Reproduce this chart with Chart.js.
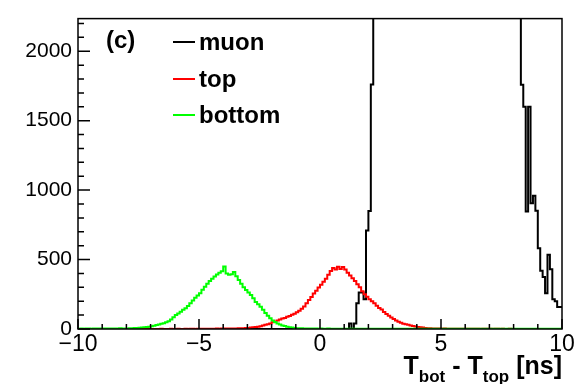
<!DOCTYPE html>
<html>
<head>
<meta charset="utf-8">
<script src="https://cdn.jsdelivr.net/npm/chart.js@4.4.1/dist/chart.umd.min.js"></script>
<style>
  html, body { margin: 0; padding: 0; background: #fff; }
  #wrap { position: relative; width: 582px; height: 384px; font-family: 'Liberation Sans', Arial, sans-serif; color: #000; }
  #chart { position: absolute; left: 0; top: 0; }
  .tag { position: absolute; left: 106px; top: 28px; font-weight: bold; font-size: 24px; line-height: 24px; }
  .entry { position: absolute; left: 173px; height: 28px; display: flex; align-items: center; font-weight: bold; font-size: 24px; }
  .entry .swatch { width: 22px; height: 2px; margin-right: 4px; }
  .xtitle { position: absolute; right: 20px; top: 353px; font-weight: bold; font-size: 25px; line-height: 25px; white-space: nowrap; }
  .xtitle sub { font-size: 17px; vertical-align: -8px; line-height: 0; }
</style>
</head>
<body>
<div id="wrap">
  <canvas id="chart" width="582" height="384"></canvas>
  <div class="tag">(c)</div>
  <div id="legend"></div>
  <div class="xtitle">T<sub>bot</sub> - T<sub>top</sub> [ns]</div>
</div>
<script>
// histogram binning: 200 bins of 0.1 ns from -10 to 10
const binLow = -10;
const binWidth = 0.1;

const seriesNames = ['muon', 'top', 'bottom'];
const seriesColors = ['#000000', '#ff0000', '#00ff00'];

// counts per bin, one row per ns
const muonCounts = [
    0, 0, 0, 0, 0, 0, 0, 0, 0, 0,
    0, 0, 0, 0, 0, 0, 0, 0, 0, 0,
    0, 0, 0, 0, 0, 0, 0, 0, 0, 0,
    0, 0, 0, 0, 0, 0, 0, 0, 0, 0,
    0, 0, 0, 0, 0, 0, 0, 0, 0, 0,
    0, 0, 0, 0, 0, 0, 0, 0, 0, 0,
    0, 0, 0, 0, 0, 0, 0, 0, 0, 0,
    0, 0, 0, 0, 0, 0, 0, 0, 0, 0,
    0, 0, 0, 0, 0, 0, 0, 0, 0, 0,
    0, 0, 0, 0, 0, 0, 0, 0, 0, 0,
    0, 0, 0, 0, 0, 0, 0, 0, 0, 0,
    0, 0, 40, 0, 40, 185, 262, 262, 215, 710,
    850, 1760, 2900, 3600, 4400, 5200, 5900, 6600, 7200, 7700,
    8100, 8400, 8700, 8900, 9000, 9100, 9100, 9000, 9000, 8900,
    8800, 8700, 8600, 8400, 8300, 8100, 8000, 7800, 7600, 7500,
    7300, 7100, 7000, 6800, 6600, 6400, 6300, 6100, 5900, 5700,
    5600, 5400, 5200, 5000, 4900, 4700, 4500, 4400, 4200, 4000,
    3900, 3700, 3600, 3400, 3300, 3100, 3000, 2900, 2800, 2700,
    2550, 2400, 2300, 1758, 1600, 846, 1600, 905, 960, 851,
    581, 420, 374, 258, 535, 431, 214, 200, 159, 159
];

const topCounts = [
    0, 0, 0, 0, 0, 0, 0, 0, 0, 0,
    0, 0, 0, 0, 0, 0, 0, 0, 0, 0,
    0, 0, 0, 0, 0, 0, 0, 0, 0, 0,
    0, 0, 0, 0, 1, 0, 0, 0, 1, 0,
    0, 1, 0, 0, 1, 0, 1, 1, 0, 1,
    1, 1, 2, 1, 2, 2, 2, 3, 2, 3,
    3, 3, 4, 3, 4, 4, 5, 6, 6, 7,
    8, 10, 12, 14, 17, 20, 25, 30, 35, 40,
    48, 53, 62, 68, 76, 80, 88, 94, 102, 110,
    120, 132, 145, 162, 185, 208, 230, 255, 275, 298,
    318, 340, 362, 390, 418, 440, 428, 448, 432, 446,
    428, 405, 385, 365, 345, 322, 300, 272, 250, 232,
    215, 200, 185, 168, 152, 140, 122, 108, 95, 82,
    72, 62, 52, 45, 38, 34, 30, 26, 22, 18,
    15, 12, 10, 8, 6, 5, 4, 4, 3, 3,
    2, 3, 2, 2, 2, 1, 2, 1, 1, 2,
    1, 1, 1, 2, 1, 1, 0, 1, 1, 1,
    1, 0, 1, 1, 0, 1, 0, 0, 1, 0,
    0, 0, 0, 0, 0, 0, 0, 0, 0, 0,
    0, 0, 0, 0, 0, 0, 0, 0, 0, 0
];

const bottomCounts = [
    2, 3, 2, 3, 3, 2, 3, 4, 3, 3,
    3, 4, 3, 4, 4, 3, 4, 5, 4, 4,
    4, 5, 6, 7, 8, 9, 10, 12, 14, 17,
    20, 24, 28, 33, 38, 42, 48, 55, 68, 84,
    100, 112, 125, 138, 150, 165, 185, 205, 225, 242,
    258, 282, 305, 325, 345, 362, 378, 392, 405, 415,
    450, 400, 390, 395, 410, 380, 352, 325, 300, 280,
    262, 245, 222, 195, 178, 160, 138, 115, 95, 78,
    62, 50, 40, 32, 26, 21, 16, 13, 10, 8,
    6, 5, 5, 4, 4, 3, 4, 3, 3, 2,
    3, 2, 2, 3, 2, 2, 1, 2, 2, 1,
    2, 1, 1, 2, 1, 1, 2, 1, 1, 1,
    1, 1, 2, 1, 1, 1, 1, 2, 1, 1,
    1, 1, 1, 1, 2, 1, 1, 1, 1, 1,
    1, 1, 1, 1, 1, 1, 1, 1, 1, 1,
    1, 1, 1, 1, 1, 1, 1, 1, 1, 1,
    1, 1, 1, 1, 1, 1, 1, 1, 1, 1,
    1, 1, 1, 1, 1, 1, 1, 1, 1, 1,
    1, 1, 1, 1, 1, 1, 1, 1, 1, 1,
    1, 1, 1, 1, 1, 1, 1, 1, 1, 1
];

// axis ticks
const xMajorTicks = [-10, -5, 0, 5, 10];
const xMinorTicks = [-9, -8, -7, -6, -4, -3, -2, -1, 1, 2, 3, 4, 6, 7, 8, 9];
const yMajorTicks = [0, 500, 1000, 1500, 2000];
const yMinorTicks = [100, 200, 300, 400, 600, 700, 800, 900, 1100, 1200, 1300, 1400, 1600, 1700, 1800, 1900, 2100, 2200];
const yMax = 2235;

// turn bin counts into step points (left edge of each bin, plus the last right edge)
function toSteps(counts) {
    const pts = counts.map((c, i) => ({ x: binLow + i * binWidth, y: c }));
    pts.push({ x: binLow + counts.length * binWidth, y: counts[counts.length - 1] });
    return pts;
}

// ROOT style frame and inward ticks
const rootAxes = {
    id: 'rootAxes',
    afterDatasetsDraw(chart) {
        const { ctx, chartArea: a, scales } = chart;
        const x = scales.x, y = scales.y;
        ctx.save();
        ctx.strokeStyle = '#000';
        ctx.lineWidth = 1.5;
        ctx.beginPath();
        yMajorTicks.forEach(v => { const p = y.getPixelForValue(v); ctx.moveTo(a.left, p); ctx.lineTo(a.left + 12, p); });
        yMinorTicks.forEach(v => { const p = y.getPixelForValue(v); ctx.moveTo(a.left, p); ctx.lineTo(a.left + 6, p); });
        xMajorTicks.forEach(v => { const p = x.getPixelForValue(v); ctx.moveTo(p, a.bottom); ctx.lineTo(p, a.bottom - 10); });
        xMinorTicks.forEach(v => { const p = x.getPixelForValue(v); ctx.moveTo(p, a.bottom); ctx.lineTo(p, a.bottom - 5); });
        ctx.stroke();
        ctx.strokeRect(a.left, a.top, a.right - a.left, a.bottom - a.top);
        ctx.restore();
    }
};

const allCounts = [muonCounts, topCounts, bottomCounts];
const datasets = seriesNames.map((name, i) => ({
    label: name,
    data: toSteps(allCounts[i]),
    borderColor: seriesColors[i],
    borderWidth: 2,
    pointRadius: 0,
    stepped: 'before',
    fill: false,
    order: 3 - i
}));

// legend built from the same series lists
const legend = document.getElementById('legend');
seriesNames.forEach((name, i) => {
    const row = document.createElement('div');
    row.className = 'entry';
    row.style.top = (28 + i * 36.7) + 'px';
    row.innerHTML = `<span class="swatch" style="background:${seriesColors[i]}"></span><span>${name}</span>`;
    legend.appendChild(row);
});

Chart.defaults.font.family = "'Liberation Sans', Arial, sans-serif";
Chart.defaults.color = '#000';

const tickText = v => (v < 0 ? '\u2212' + Math.abs(v) : String(v));

new Chart(document.getElementById('chart'), {
    type: 'line',
    data: { datasets: datasets },
    options: {
        responsive: false,
        animation: false,
        devicePixelRatio: 1,
        layout: { padding: { top: 6, right: 20, left: 0, bottom: 0 } },
        plugins: { legend: { display: false }, tooltip: { enabled: false } },
        scales: {
            x: {
                type: 'linear',
                min: -10,
                max: 10,
                afterFit: s => { s.height = 55; },
                afterBuildTicks: s => { s.ticks = xMajorTicks.map(v => ({ value: v })); },
                grid: { display: true, drawOnChartArea: false, drawTicks: false },
                border: { display: false },
                ticks: {
                    autoSkip: false,
                    maxRotation: 0,
                    padding: 2,
                    font: { size: 23 },
                    callback: tickText
                }
            },
            y: {
                type: 'linear',
                min: 0,
                max: yMax,
                afterFit: s => { s.width = 78; },
                afterBuildTicks: s => { s.ticks = yMajorTicks.map(v => ({ value: v })); },
                grid: { display: true, drawOnChartArea: false, drawTicks: false },
                border: { display: false },
                ticks: {
                    autoSkip: false,
                    padding: 6,
                    font: { size: 21 },
                    callback: tickText
                }
            }
        }
    },
    plugins: [rootAxes]
});
</script>
</body>
</html>
